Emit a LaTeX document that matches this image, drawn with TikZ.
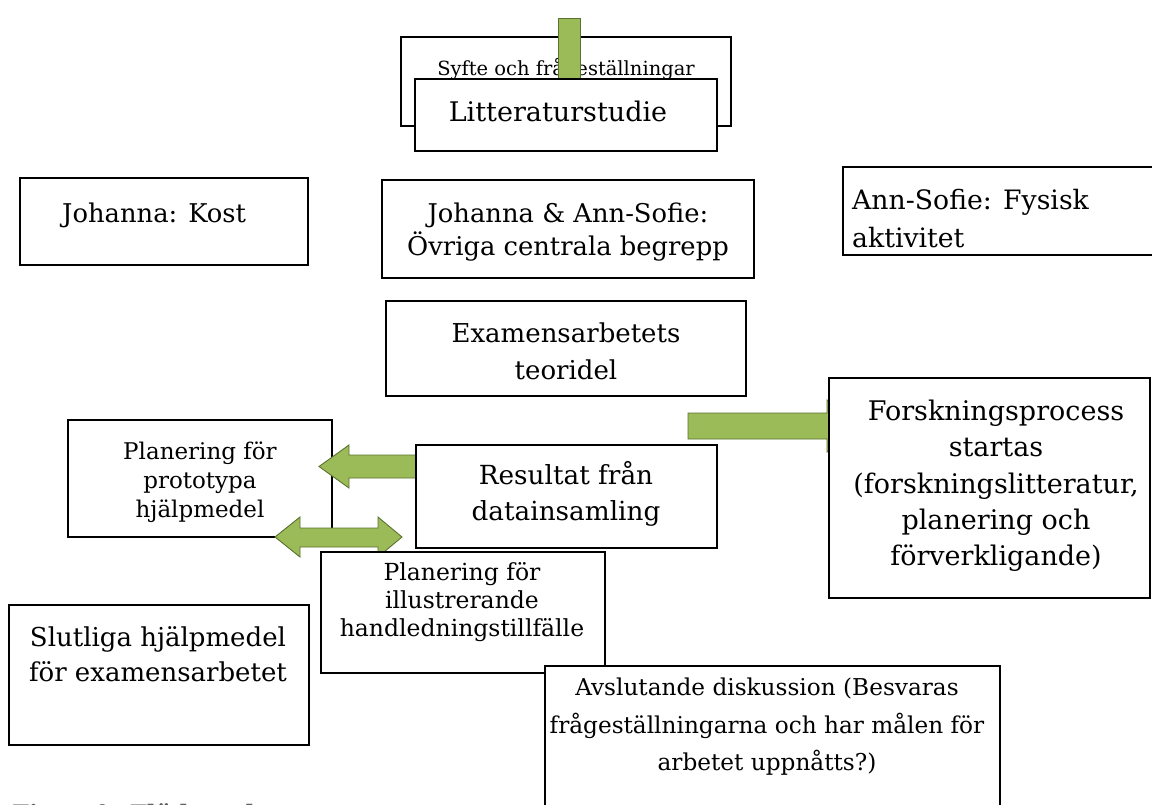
\documentclass[tikz,border=0pt]{standalone}
\usepackage{fontspec}
\setmainfont{DejaVu Serif}
\definecolor{grn}{HTML}{9BBB59}
\definecolor{grnline}{HTML}{5A722E}
\tikzset{
  bx/.style={draw=black, line width=1.3pt, fill=white, inner sep=0pt, rectangle},
  txt/.style={inner sep=0pt, align=center, text=black},
  blockarrow/.style={fill=grn, draw=grnline, line width=0.9pt, line join=miter},
}
\newcommand\boxnode[5]{\node[bx, minimum width={#4-#2}, minimum height={#5-#3}] (#1) at ({(#2+#4)/2},{(#3+#5)/2}) {};}
\begin{document}
\begin{tikzpicture}[x=1pt,y=-1pt]
\useasboundingbox (0,0) rectangle (1152,804);
\fill[white] (0,0) rectangle (1152,804);

% top: Syfte, bar, Litteraturstudie
\boxnode{syfte}{401}{37}{731}{126}
\node[txt, anchor=base, font=\fontsize{19.5}{23}\selectfont] (syftet) at (566,75) {Syfte och frågeställningar};
\coordinate (bartop) at (558,18);
\coordinate (barbot) at (580,95);
\draw[blockarrow] (bartop) rectangle (barbot);
\boxnode{litt}{415}{79}{717}{151}
\node[txt, anchor=base, font=\fontsize{27}{32}\selectfont] (littt) at (558,121) {Litteraturstudie};

% second row
\boxnode{kost}{20}{178}{308}{265}
\node[txt, anchor=base west, font=\fontsize{25.8}{32}\selectfont] (kostt) at (62,222) {Johanna: Kost};
\boxnode{both}{382}{180}{754}{278}
\node[txt, font=\fontsize{25.8}{33}\selectfont] (botht) at (568,232) {Johanna \& Ann-Sofie:\\Övriga centrala begrepp};
\boxnode{anns}{843}{167}{1165}{255}
\node[txt, align=left, anchor=west, font=\fontsize{26.7}{38}\selectfont] (annst) at (852,219) {Ann-Sofie: Fysisk\\aktivitet};

% Examensarbetets teoridel
\boxnode{exam}{386}{301}{746}{396}
\node[txt, font=\fontsize{26}{37}\selectfont] (examt) at (566,351) {Examensarbetets\\teoridel};

% Planering prototypa
\boxnode{proto}{68}{420}{332}{537}
\node[txt, font=\fontsize{23}{29}\selectfont] (protot) at (200,482) {Planering för\\prototypa\\hjälpmedel};

% green arrows
\coordinate (la-tip) at (319,466.5);
\draw[blockarrow] (430,455) -- (349,455) -- (349,445) -- (la-tip) -- (349,488) -- (349,478) -- (430,478) -- cycle;
\coordinate (da-l) at (275,537);
\coordinate (da-r) at (402,537);
\draw[blockarrow] (da-l) -- (300,517) -- (300,528) -- (378,528) -- (378,517) -- (da-r) -- (378,557) -- (378,547) -- (300,547) -- (300,557) -- cycle;
\coordinate (ra-tail) at (688,426);
\draw[blockarrow] (688,413) -- (827,413) -- (827,400) -- (870,426) -- (827,452) -- (827,439) -- (688,439) -- cycle;

% Resultat
\boxnode{result}{416}{445}{717}{548}
\node[txt, font=\fontsize{26.3}{36}\selectfont] (resultt) at (566,494) {Resultat från\\datainsamling};

% Planering illustrerande
\boxnode{illus}{321}{552}{605}{673}
\node[txt, font=\fontsize{23.5}{28}\selectfont] (illust) at (462,602) {Planering för\\illustrerande\\handledningstillfälle};

% Forskningsprocess
\boxnode{forsk}{829}{378}{1150}{598}
\node[txt, font=\fontsize{27}{36.3}\selectfont] (forskt) at (996,486) {Forskningsprocess\\startas\\(forskningslitteratur,\\planering och\\förverkligande)};

% Slutliga
\boxnode{slut}{9}{605}{309}{745}
\node[txt, font=\fontsize{26}{35}\selectfont] (slutt) at (158,654) {Slutliga hjälpmedel\\för examensarbetet};

% Avslutande
\boxnode{avsl}{545}{666}{1000}{830}
\node[txt, font=\fontsize{23.2}{37.5}\selectfont] (avslt) at (767,727) {Avslutande diskussion (Besvaras\\frågeställningarna och har målen för\\arbetet uppnåtts?)};

% caption (cut off at the bottom, as in the reference)
\node[inner sep=0pt, anchor=base west, font=\bfseries\fontsize{24}{28}\selectfont, text=gray!75!black] (caption) at (12,822) {Figur 1. Flödesschema};
\end{tikzpicture}
\end{document}
